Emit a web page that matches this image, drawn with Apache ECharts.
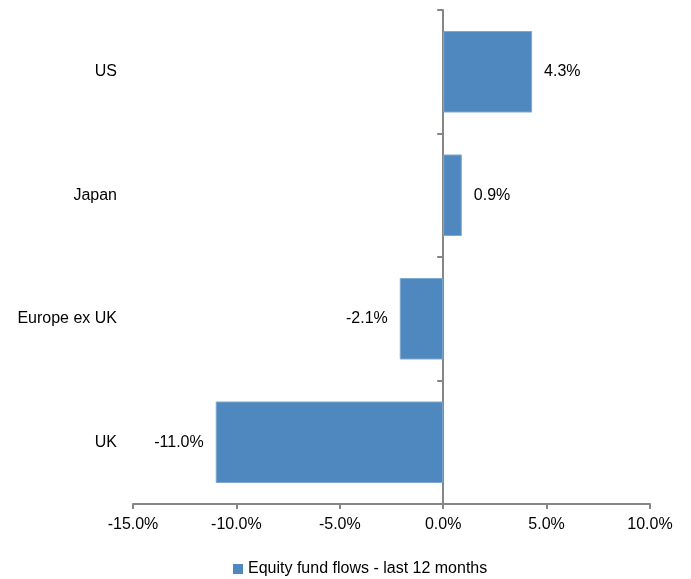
<!DOCTYPE html>
<html>
<head>
<meta charset="utf-8">
<script src="https://cdn.jsdelivr.net/npm/echarts@6/dist/echarts.min.js"></script>
<style>
  html, body { margin: 0; padding: 0; background: #fff; }
  #chart { width: 691px; height: 579px; }
</style>
</head>
<body>
<div id="chart"></div>
<script>
  var categories = ['US', 'Japan', 'Europe ex UK', 'UK'];
  var flows = [4.3, 0.9, -2.1, -11.0];
  var seriesName = 'Equity fund flows - last 12 months';

  var FONT = 'Liberation Sans';
  var AXIS_GREY = '#868686';

  var chart = echarts.init(document.getElementById('chart'));

  var barData = flows.map(function (v) {
    return {
      value: v,
      label: { position: v < 0 ? 'left' : 'right' }
    };
  });

  chart.setOption({
    animation: false,
    textStyle: { fontFamily: FONT },
    grid: { left: 133, right: 41, top: 10, bottom: 75, containLabel: false },
    legend: {
      left: 228,
      top: 556,
      icon: 'rect',
      itemWidth: 10,
      itemHeight: 10,
      itemGap: 6,
      itemStyle: { borderWidth: 0 },
      textStyle: { fontFamily: FONT, fontSize: 16, color: '#000' },
      data: [seriesName]
    },
    xAxis: {
      type: 'value',
      min: -15,
      max: 10,
      interval: 5,
      axisLine: { show: true, onZero: false, lineStyle: { color: AXIS_GREY, width: 2 } },
      axisTick: { show: true, length: 5, lineStyle: { color: AXIS_GREY, width: 2 } },
      splitLine: { show: false },
      axisLabel: {
        margin: 13,
        fontSize: 16,
        color: '#000',
        fontFamily: FONT,
        formatter: function (v) { return v.toFixed(1) + '%'; }
      }
    },
    yAxis: [
      {
        type: 'category',
        inverse: true,
        position: 'left',
        data: categories,
        axisLine: { show: false, onZero: false },
        axisTick: { show: false },
        axisLabel: { margin: 16, fontSize: 16, color: '#000', fontFamily: FONT }
      },
      {
        type: 'category',
        inverse: true,
        position: 'left',
        data: categories,
        axisLine: { show: true, onZero: true, lineStyle: { color: AXIS_GREY, width: 2 } },
        axisTick: { show: true, length: 6, lineStyle: { color: AXIS_GREY, width: 2 } },
        axisLabel: { show: false }
      }
    ],
    series: [{
      name: seriesName,
      type: 'bar',
      yAxisIndex: 0,
      barCategoryGap: '34%',
      itemStyle: { color: '#4E88BE', borderColor: '#7FA8D0', borderWidth: 1 },
      label: {
        show: true,
        distance: 12,
        fontSize: 16,
        color: '#000',
        fontFamily: FONT,
        formatter: function (p) { return p.value.toFixed(1) + '%'; }
      },
      data: barData
    }]
  });
</script>
</body>
</html>
